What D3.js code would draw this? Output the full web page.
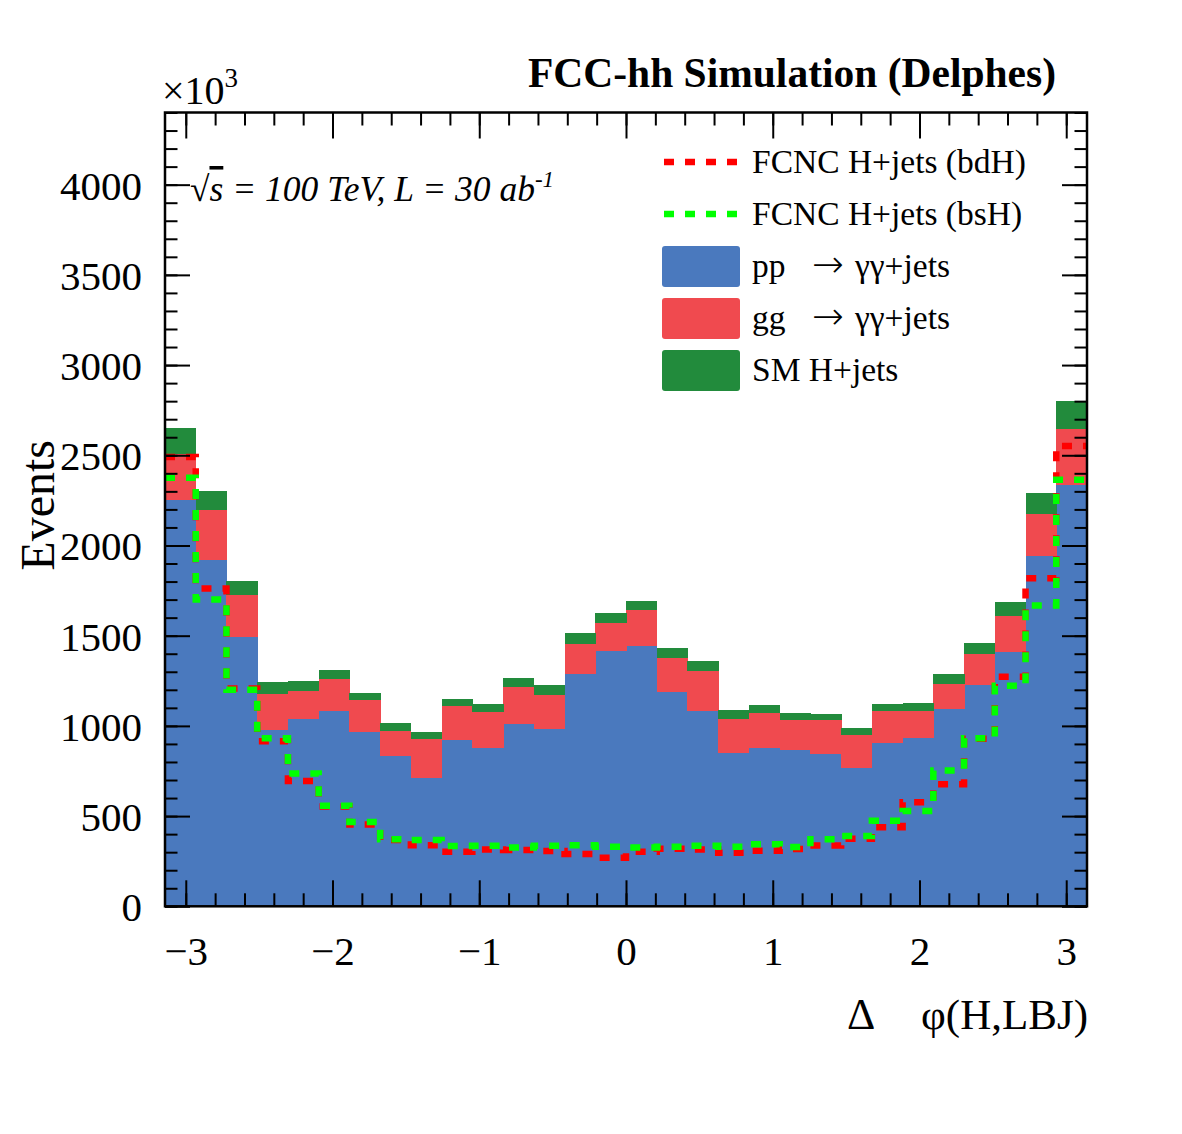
<!DOCTYPE html>
<html>
<head>
<meta charset="utf-8">
<script src="https://cdn.jsdelivr.net/npm/d3@7"></script>
<style>
  body { margin: 0; background: #fff; }
  text { font-family: "Liberation Serif", "DejaVu Serif", serif; fill: #000; }
</style>
</head>
<body>
<svg id="chart" width="1182" height="1134"></svg>
<script>
// 30 bins of delta phi(H, leading b-jet), values in units of 10^3 events
const nBins = 30;

const ppYY = [2254, 1917, 1491, 976, 1037, 1080, 965, 834, 712, 923,
              877, 1013, 982, 1290, 1414, 1443, 1188, 1081, 851, 875,
              867, 843, 766, 904, 932, 1091, 1224, 1411, 1939, 2338];
const ggYY = [254, 279, 233, 201, 159, 182, 177, 137, 214, 188,
              201, 201, 188, 164, 155, 199, 187, 222, 186, 194,
              166, 187, 181, 177, 149, 143, 172, 197, 238, 309];
const smH  = [142, 107, 79, 65, 51, 46, 43, 44, 39, 39,
              42, 50, 57, 59, 59, 52, 55, 55, 50, 45,
              38, 36, 39, 42, 44, 52, 61, 80, 113, 153];

const fcncBdH = [2490, 1761, 1207, 915, 694, 553, 454, 367, 338, 302,
                 315, 312, 306, 290, 269, 302, 319, 315, 297, 308,
                 317, 337, 375, 438, 577, 677, 929, 1272, 1818, 2551];
const fcncBsH = [2375, 1700, 1201, 932, 736, 557, 467, 371, 367, 334,
                 335, 326, 336, 339, 330, 326, 330, 336, 330, 344,
                 329, 371, 390, 474, 528, 753, 932, 1223, 1667, 2364];

const yMajorTicks = [0, 500, 1000, 1500, 2000, 2500, 3000, 3500, 4000];
const xMajorTicks = [-3, -2, -1, 0, 1, 2, 3];

// legend entries: [before arrow, after arrow]
const legendLabels = [["FCNC H+jets (bdH)", ""], ["FCNC H+jets (bsH)", ""], ["pp", "\u03b3\u03b3+jets"], ["gg", "\u03b3\u03b3+jets"], ["SM H+jets", ""]];
const legendKinds  = ["line", "line", "box", "box", "box"];
const legendColors = ["#ff0000", "#00ff00", "#4a79be", "#f04a4f", "#228b3c"];

const stackKeys = ["pp", "gg", "sm"];
const stackColors = ["#4a79be", "#f04a4f", "#228b3c"];

//frame
const frameLeft = 165, frameRight = 1087, frameTop = 112.5, frameBottom = 906.3;

const svg = d3.select("#chart");

const x = d3.scaleLinear()
  .domain([-Math.PI, Math.PI])
  .range([frameLeft, frameRight]);

const y = d3.scaleLinear()
  .domain([0, 4400])
  .range([frameBottom, frameTop]);

const edges = d3.range(nBins + 1).map(i => -Math.PI + i * 2 * Math.PI / nBins);

const bins = d3.range(nBins).map(i => ({
  x0: edges[i], x1: edges[i + 1],
  pp: ppYY[i], gg: ggYY[i], sm: smH[i]
}));

svg.append("defs").append("clipPath")
  .attr("id", "frameClip")
  .append("rect")
  .attr("x", frameLeft).attr("y", frameTop)
  .attr("width", frameRight - frameLeft).attr("height", frameBottom - frameTop);

//stacked backgrounds
const series = d3.stack().keys(stackKeys)(bins);

const plot = svg.append("g").attr("clip-path", "url(#frameClip)");

plot.selectAll("g.layer")
  .data(series)
  .join("g")
  .attr("class", "layer")
  .attr("fill", (d, i) => stackColors[i])
  .selectAll("rect")
  .data(d => d)
  .join("rect")
  .attr("shape-rendering", "crispEdges")
  .attr("x", d => x(d.data.x0))
  .attr("width", d => x(d.data.x1) - x(d.data.x0) + 0.5)
  .attr("y", d => y(d[1]))
  .attr("height", d => y(d[0]) - y(d[1]));

//signal step lines
const stepLine = d3.line()
  .x(d => x(d[0]))
  .y(d => y(d[1]))
  .curve(d3.curveStepAfter);

function stepPoints(values) {
  const pts = values.map((v, i) => [edges[i], v]);
  pts.push([edges[nBins], values[nBins - 1]]);
  return pts;
}

[[fcncBdH, "#ff0000"], [fcncBsH, "#00ff00"]].forEach(([vals, col]) => {
  plot.append("path")
    .attr("d", stepLine(stepPoints(vals)))
    .attr("fill", "none")
    .attr("stroke", col)
    .attr("stroke-width", 6.5)
    .attr("stroke-dasharray", "10,11");
});

//axes: ticks point inward on all four sides
const yMinor = d3.range(0, 4401, 100);
const xMinor = d3.range(-3, 3.01, 0.2).map(v => +v.toFixed(1));

function styleAxis(g) {
  g.select(".domain").remove();
  g.selectAll(".tick line").attr("stroke", "#000").attr("stroke-width", 2);
  g.selectAll("text")
    .style("font-family", "'Liberation Serif', serif")
    .attr("font-size", 41)
    .attr("fill", "#000");
}

svg.append("g")
  .attr("transform", `translate(${frameLeft},0)`)
  .call(d3.axisLeft(y).tickValues(yMajorTicks).tickSize(-25).tickPadding(23).tickFormat(d3.format("d")))
  .call(styleAxis)
  .selectAll("text").attr("dy", "0.35em");

svg.append("g")
  .attr("transform", `translate(${frameLeft},0)`)
  .call(d3.axisLeft(y).tickValues(yMinor).tickSize(-12.5).tickFormat(""))
  .call(styleAxis);

svg.append("g")
  .attr("transform", `translate(${frameRight},0)`)
  .call(d3.axisRight(y).tickValues(yMajorTicks).tickSize(-25).tickFormat(""))
  .call(styleAxis);

svg.append("g")
  .attr("transform", `translate(${frameRight},0)`)
  .call(d3.axisRight(y).tickValues(yMinor).tickSize(-12.5).tickFormat(""))
  .call(styleAxis);

svg.append("g")
  .attr("transform", `translate(0,${frameBottom})`)
  .call(d3.axisBottom(x).tickValues(xMajorTicks).tickSize(-26).tickPadding(30).tickFormat(d3.format("d")))
  .call(styleAxis);

svg.append("g")
  .attr("transform", `translate(0,${frameBottom})`)
  .call(d3.axisBottom(x).tickValues(xMinor).tickSize(-13).tickFormat(""))
  .call(styleAxis);

svg.append("g")
  .attr("transform", `translate(0,${frameTop})`)
  .call(d3.axisTop(x).tickValues(xMajorTicks).tickSize(-26).tickFormat(""))
  .call(styleAxis);

svg.append("g")
  .attr("transform", `translate(0,${frameTop})`)
  .call(d3.axisTop(x).tickValues(xMinor).tickSize(-13).tickFormat(""))
  .call(styleAxis);

svg.append("rect")
  .attr("x", frameLeft).attr("y", frameTop)
  .attr("width", frameRight - frameLeft).attr("height", frameBottom - frameTop)
  .attr("fill", "none")
  .attr("stroke", "#000")
  .attr("stroke-width", 2.5);

//titles
svg.append("text")
  .attr("x", 1056).attr("y", 87)
  .attr("text-anchor", "end")
  .attr("font-size", 41.5)
  .attr("font-weight", "bold")
  .text("FCC-hh Simulation (Delphes)");

const expo = svg.append("text")
  .attr("x", 162).attr("y", 104)
  .attr("font-size", 40);
expo.append("tspan").text("\u00d710");
expo.append("tspan").attr("font-size", 27).attr("dy", -17).text("3");

const energy = svg.append("text")
  .attr("x", 190).attr("y", 201)
  .attr("font-size", 35.5);
energy.append("tspan").text("\u221a");
energy.append("tspan").attr("font-style", "italic").style("text-decoration", "overline").text("s");
energy.append("tspan").attr("font-style", "italic").text(" = 100 TeV, L = 30 ab");
energy.append("tspan").attr("font-style", "italic").attr("font-size", 23).attr("dy", -14).text("-1");

svg.append("text")
  .attr("transform", "translate(54,440) rotate(-90)")
  .attr("text-anchor", "end")
  .attr("font-size", 48)
  .text("Events");

svg.append("text")
  .attr("x", 847).attr("y", 1029)
  .attr("font-size", 44)
  .text("\u0394");

svg.append("text")
  .attr("x", 1088).attr("y", 1029)
  .attr("text-anchor", "end")
  .attr("font-size", 43)
  .text("\u03c6(H,LBJ)");

//legend
const legend = svg.append("g");
const rowY = [162, 214, 266, 318, 370];

legendLabels.forEach((label, i) => {
  const cy = rowY[i];
  if (legendKinds[i] === "line") {
    legend.append("line")
      .attr("x1", 664).attr("x2", 740)
      .attr("y1", cy).attr("y2", cy)
      .attr("stroke", legendColors[i])
      .attr("stroke-width", 6.5)
      .attr("stroke-dasharray", "10,11");
  } else {
    legend.append("rect")
      .attr("x", 662).attr("y", cy - 20)
      .attr("width", 78).attr("height", 41)
      .attr("rx", 3)
      .attr("fill", legendColors[i]);
  }
  const t = legend.append("text")
    .attr("x", 752).attr("y", cy + 11)
    .attr("font-size", 33.5);
  t.append("tspan").text(label[0]);
  if (label[1]) {
    t.append("tspan").attr("x", 812).attr("font-family", "'DejaVu Sans', sans-serif").attr("font-weight", 300).attr("font-size", 38).text("\u2192");
    t.append("tspan").attr("x", 855).text(label[1]);
  }
});
</script>
</body>
</html>
